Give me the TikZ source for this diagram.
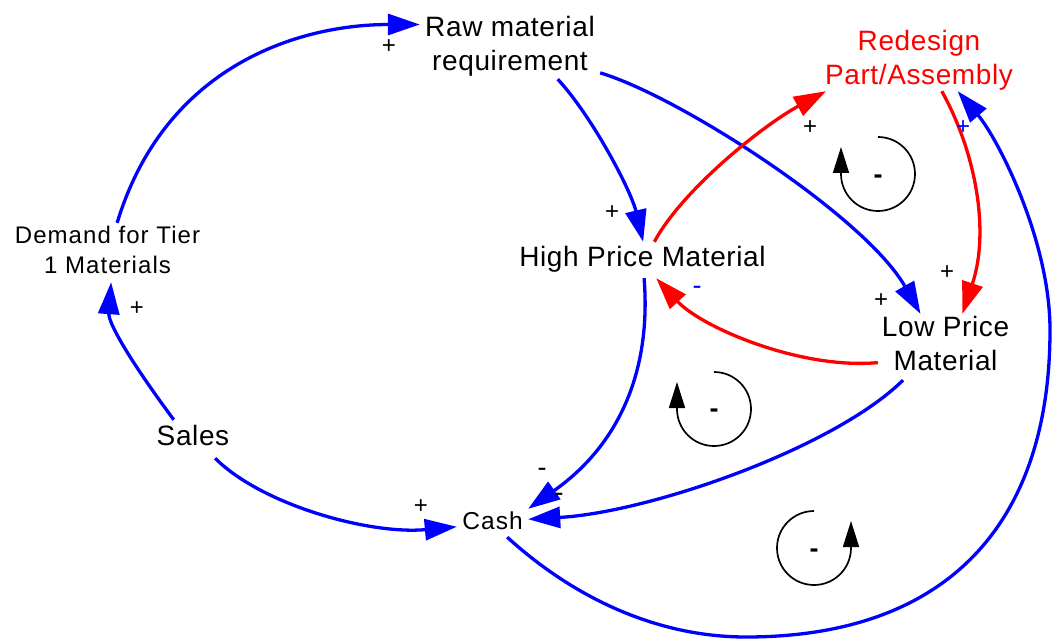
\documentclass[tikz,border=0pt]{standalone}
\usepackage{fontspec}
\setmainfont{Liberation Sans}
\newfontfamily\lblfont[LetterSpace=2.2]{Liberation Sans}
\newfontfamily\smlfont[LetterSpace=4.4]{Liberation Sans}
\usetikzlibrary{arrows.meta}
\definecolor{cblue}{RGB}{0,0,255}
\definecolor{cred}{RGB}{255,0,0}
\newcommand{\cpttext}[1]{{\setlength{\tabcolsep}{0pt}\begin{tabular}{c}#1\end{tabular}}}
\begin{document}
\begin{tikzpicture}[x=1pt,y=1pt,
  concept/.style={rectangle, inner xsep=0pt, minimum height=0pt, text=black},
  big/.style={font=\lblfont\fontsize{28}{34}\selectfont},
  small/.style={font=\smlfont\fontsize{24}{30}\selectfont},
  link/.style={line width=3.3pt, -{Triangle[length=32pt,width=21pt]}},
  bluelink/.style={link, color=cblue},
  redlink/.style={link, color=cred},
  sign/.style={font=\fontsize{24}{28}\selectfont, inner sep=0pt, text=black},
  neg/.style={font=\fontsize{27}{30}\selectfont, inner sep=0pt, text=black},
  loopline/.style={line width=1.7pt, -{Triangle[length=26pt,width=16pt]}},
  loopsign/.style={font=\bfseries\fontsize{27}{30}\selectfont, inner sep=0pt}
]
\useasboundingbox (0,0) rectangle (1052,-639);

% concepts
\node[concept,big,minimum width=180pt,inner ysep=-2pt] (raw) at (510,-47) {\cpttext{Raw material\\requirement}};
\node[concept,big,text=cred,minimum width=202pt,inner ysep=-4pt] (redesign) at (919,-61) {\cpttext{Redesign\\Part/Assembly}};
\node[concept,big,minimum width=261pt,inner ysep=1pt] (high) at (642.5,-260) {\cpttext{High Price Material}};
\node[concept,big,minimum width=135pt,inner ysep=-1pt] (low) at (945.5,-347) {\cpttext{Low Price\\Material}};
\node[concept,small,minimum width=199pt,inner ysep=-0.5pt] (demand) at (107.5,-252.5) {\cpttext{Demand for Tier\\1 Materials}};
\node[concept,big,minimum width=80pt,inner ysep=2pt] (sales) at (193,-439) {\cpttext{Sales}};
\node[concept,font=\smlfont\fontsize{24.5}{30}\selectfont,minimum width=71pt,inner ysep=-1pt] (cash) at (492.5,-523) {\cpttext{Cash}};

% connectors
\draw[bluelink] (demand.72) .. controls +(48,158) and +(-120,0) .. (raw.166);
\draw[bluelink] (sales.135) .. controls +(-46,62) and +(-3,-40) .. (demand.-83);
\draw[bluelink] (sales.-41) .. controls +(47,-47) and +(-87,-8) .. (cash.-174);
\draw[bluelink] (raw.-34) .. controls +(35,-38) and +(-12,51) .. (high.88);
\draw[bluelink] (raw.-16) .. controls +(80,-24) and +(-55,97) .. (low.127);
\draw[redlink] (high.57) .. controls +(28,52) and +(-63,-34) .. (redesign.-162);
\draw[redlink] (redesign.-53) .. controls +(33,-59) and +(28,84) .. (low.63);
\draw[redlink] (low.-167) .. controls +(-78,-7) and +(45,-49) .. (high.-53);
\draw[bluelink] (high.-85) .. controls +(8,-102) and +(84,59) .. (cash.north east);
\draw[bluelink] (low.-142) .. controls +(-69,-68) and +(122,7) .. (cash.6);
\draw[bluelink] (cash.-44) .. controls +(66,-60) and +(-90,0) .. (746,-637)
  .. controls +(200,0) and +(0,-195) .. (1050,-330)
  .. controls +(0,90) and +(40,-47) .. (redesign.-38);

% polarity signs
\node[sign] (s1) at (389,-47) {+};
\node[sign] (s2) at (137,-309) {+};
\node[sign] (s3) at (421,-507) {+};
\node[sign] (s4) at (612,-213) {+};
\node[sign] (s5) at (881,-301) {+};
\node[sign] (s6) at (810,-128) {+};
\node[sign] (s7) at (947,-273) {+};
\node[sign,text=cblue] (s8) at (963,-128) {+};
\node[neg,text=cblue] (s9) at (697,-290) {-};
\node[neg] (s10) at (542,-472) {-};
\node[neg] (s11) at (559,-497) {-};

% loop markers
\draw[loopline] (878,-137) arc[start angle=90,end angle=-180,radius=37pt] -- ++(0,27);
\node[loopsign] (l1) at (878,-179) {-};
\draw[loopline] (714,-372) arc[start angle=90,end angle=-180,radius=37pt] -- ++(0,27);
\node[loopsign] (l2) at (714,-413) {-};
\draw[loopline] (814,-511) arc[start angle=90,end angle=360,radius=37pt] -- ++(0,27);
\node[loopsign] (l3) at (814,-553) {-};
\end{tikzpicture}
\end{document}
